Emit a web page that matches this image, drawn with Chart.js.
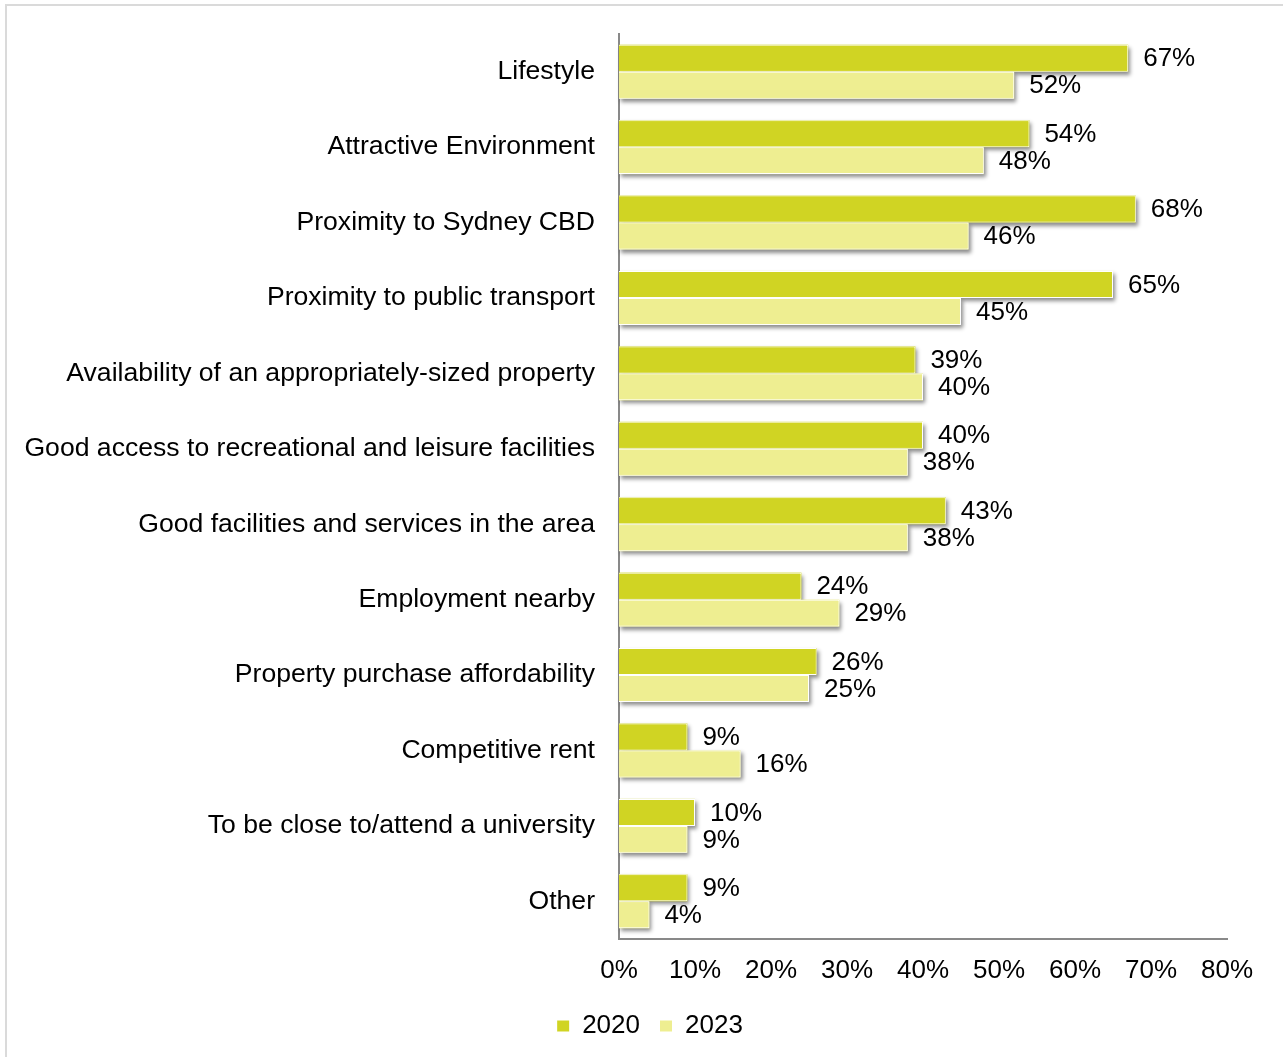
<!DOCTYPE html>
<html>
<head>
<meta charset="utf-8">
<script src="https://cdn.jsdelivr.net/npm/chart.js@4/dist/chart.umd.min.js"></script>
<style>
  html, body { margin: 0; padding: 0; background: #fff; overflow: hidden; }
  #frame { position: absolute; left: 5px; top: 4px; width: 2000px; height: 2000px;
           border-top: 2px solid #dadada; border-left: 2px solid #dadada; }
  #wrap { position: absolute; left: 0; top: 0; width: 1283px; height: 1057px; }
</style>
</head>
<body>
<div id="frame"></div>
<div id="wrap"><canvas id="c" width="1283" height="1057"></canvas></div>
<script>
const categories = [
  'Lifestyle',
  'Attractive Environment',
  'Proximity to Sydney CBD',
  'Proximity to public transport',
  'Availability of an appropriately-sized property',
  'Good access to recreational and leisure facilities',
  'Good facilities and services in the area',
  'Employment nearby',
  'Property purchase affordability',
  'Competitive rent',
  'To be close to/attend a university',
  'Other'
];
const values2020 = [67, 54, 68, 65, 39, 40, 43, 24, 26, 9, 10, 9];
const values2023 = [52, 48, 46, 45, 40, 38, 38, 29, 25, 16, 9, 4];
const xTicks = [0, 10, 20, 30, 40, 50, 60, 70, 80];

const FONT = '"Liberation Sans", Arial, sans-serif';

// Soft drop shadow drawn underneath every bar
const barShadow = {
  id: 'barShadow',
  beforeDatasetsDraw(chart) {
    const ctx = chart.ctx;
    ctx.save();
    ctx.shadowColor = 'rgba(0,0,0,0.45)';
    ctx.shadowBlur = 4;
    ctx.shadowOffsetX = 2;
    ctx.shadowOffsetY = 3;
    chart.data.datasets.forEach((ds, i) => {
      const meta = chart.getDatasetMeta(i);
      ctx.fillStyle = ds.backgroundColor;
      meta.data.forEach(el => {
        const p = el.getProps(['x', 'y', 'base', 'height'], true);
        ctx.fillRect(p.base, p.y - p.height / 2, p.x - p.base, p.height);
      });
    });
    ctx.restore();
  }
};

// Percentage label to the right of each bar
const valueLabels = {
  id: 'valueLabels',
  afterDatasetsDraw(chart) {
    const ctx = chart.ctx;
    ctx.save();
    ctx.font = '26px ' + FONT;
    ctx.fillStyle = '#000';
    ctx.textAlign = 'left';
    ctx.textBaseline = 'middle';
    chart.data.datasets.forEach((ds, i) => {
      const meta = chart.getDatasetMeta(i);
      meta.data.forEach((el, j) => {
        const p = el.getProps(['x', 'y'], true);
        ctx.fillText(ds.data[j] + '%', p.x + 15, p.y + 1);
      });
    });
    ctx.restore();
  }
};

// Centre the legend under the whole figure rather than the padded box
const legendShift = {
  id: 'legendShift',
  afterLayout(chart) {
    if (chart.legend) chart.legend.left = 73;
  }
};

new Chart(document.getElementById('c'), {
  type: 'bar',
  data: {
    labels: categories,
    datasets: [
      { label: '2020', data: values2020, backgroundColor: '#d0d423',
        borderColor: '#ffffff', borderWidth: 1, borderSkipped: 'start' },
      { label: '2023', data: values2023, backgroundColor: '#eeee91',
        borderColor: '#ffffff', borderWidth: 1, borderSkipped: 'start' }
    ]
  },
  options: {
    indexAxis: 'y',
    responsive: false,
    animation: false,
    devicePixelRatio: 1,
    layout: { padding: { top: 34, left: 0, right: 56, bottom: 8 } },
    datasets: { bar: { categoryPercentage: 0.716, barPercentage: 1.0 } },
    scales: {
      x: {
        min: 0, max: 80,
        afterFit(scale) { scale.height = 54; },
        afterBuildTicks(scale) { scale.ticks = xTicks.map(v => ({ value: v })); },
        grid: { display: false, drawTicks: false },
        border: { display: true, color: '#898989', width: 2 },
        ticks: { padding: 16, color: '#000', font: { family: FONT, size: 26 },
                 maxRotation: 0, callback: v => v + '%' }
      },
      y: {
        afterFit(scale) {
          scale.width = 619;
          scale.paddingTop = 0;
          scale.paddingBottom = 0;
        },
        grid: { display: false, drawTicks: false },
        border: { display: true, color: '#898989', width: 2 },
        ticks: { padding: 24, color: '#000', font: { family: FONT, size: 26.6 }, autoSkip: false }
      }
    },
    plugins: {
      legend: {
        position: 'bottom',
        labels: {
          boxWidth: 12, boxHeight: 11, padding: 20, color: '#000',
          font: { family: FONT, size: 26 },
          generateLabels(chart) {
            return chart.data.datasets.map((ds, i) => ({
              text: ds.label, fillStyle: ds.backgroundColor,
              strokeStyle: ds.backgroundColor, lineWidth: 0,
              hidden: !chart.isDatasetVisible(i), datasetIndex: i
            }));
          }
        }
      },
      tooltip: { enabled: false }
    }
  },
  plugins: [barShadow, valueLabels, legendShift]
});
</script>
</body>
</html>
